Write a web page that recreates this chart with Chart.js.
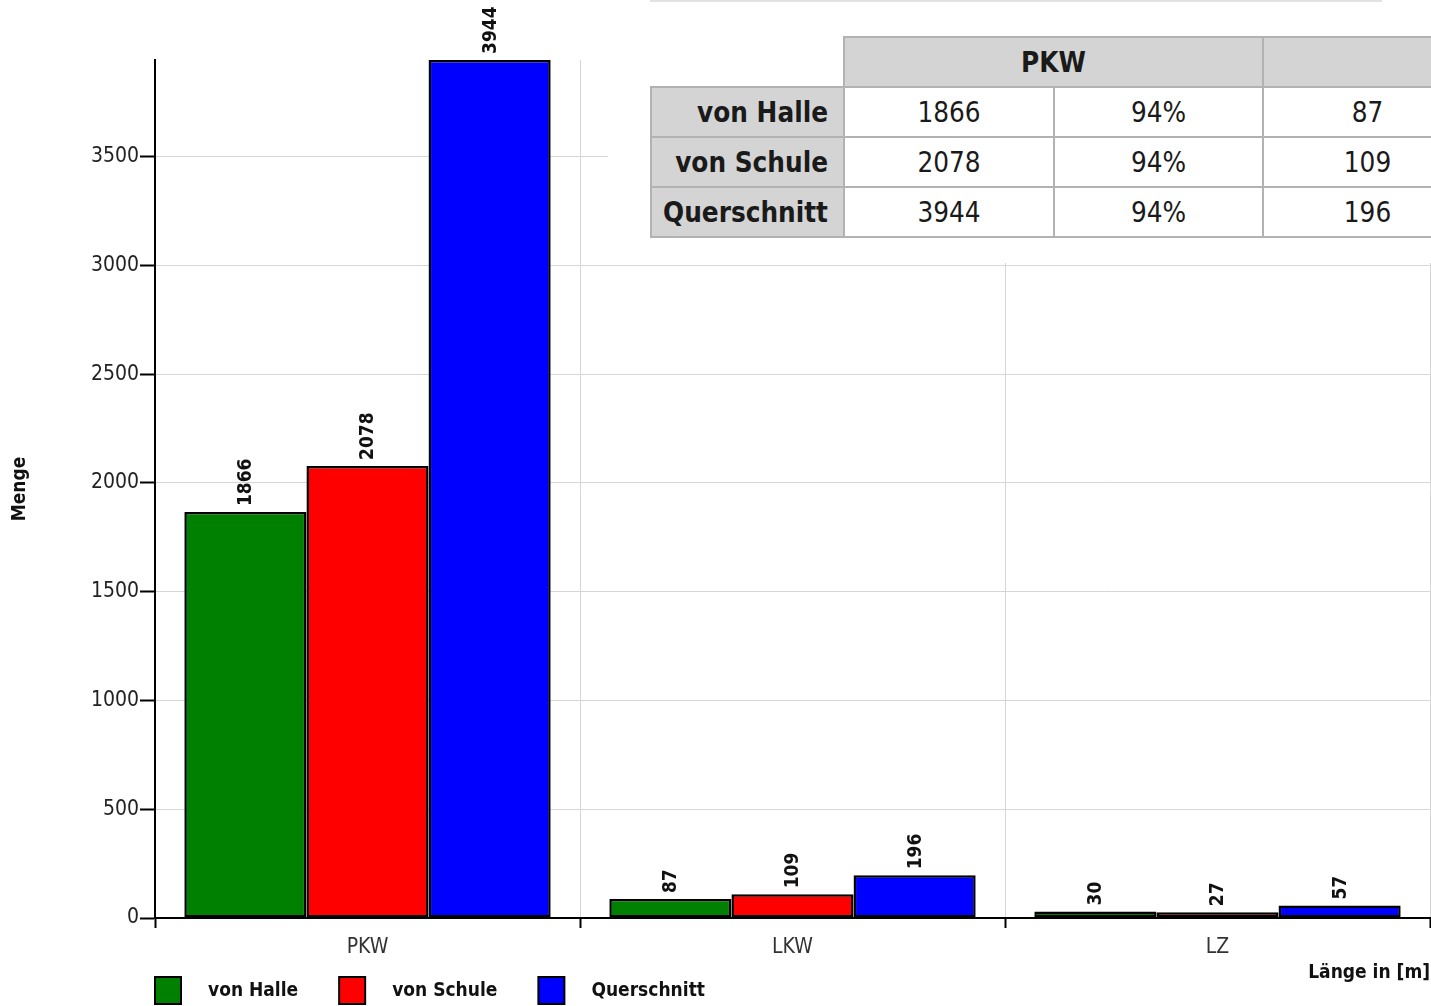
<!DOCTYPE html>
<html><head><meta charset="utf-8">
<script src="https://cdn.jsdelivr.net/npm/chart.js@4.4.1/dist/chart.umd.min.js"></script>
<style>
html,body{margin:0;padding:0;background:#fff;overflow:hidden;}
#wrap{position:relative;width:1431px;height:1006px;}
#chart{position:absolute;left:0;top:0;}
#tbox{position:absolute;left:608px;top:0;width:823px;height:263px;background:#fff;overflow:hidden;}
#topline{position:absolute;left:42px;top:0;width:732px;height:2px;background:#e2e2e2;}
#tbl{position:absolute;left:42px;top:36px;border-collapse:collapse;table-layout:fixed;width:821px;
  font-family:"DejaVu Sans Condensed","DejaVu Sans",sans-serif;font-size:27.6px;color:#1a1a1a;}
#tbl td,#tbl th{border:2px solid #b2b2b2;height:48px;padding:0;text-align:center;font-weight:normal;}
#tbl th{background:#d4d4d4;font-weight:bold;}
#tbl th.row{text-align:right;padding-right:15px;}
#tbl td.blank{border:none;background:#fff;}
</style></head>
<body>
<div id="wrap">
<canvas id="chart" width="1431" height="1006"></canvas>
<div id="tbox"><div id="topline"></div>
<table id="tbl">
<colgroup><col style="width:193px"><col style="width:210px"><col style="width:209px"><col style="width:209px"></colgroup>
<tr><td class="blank"></td><th colspan="2">PKW</th><th></th></tr>
<tr><th class="row">von Halle</th><td>1866</td><td>94%</td><td>87</td></tr>
<tr><th class="row">von Schule</th><td>2078</td><td>94%</td><td>109</td></tr>
<tr><th class="row">Querschnitt</th><td>3944</td><td>94%</td><td>196</td></tr>
</table>
</div>
</div>
<script>
// ---- data ----
const categories = ['PKW', 'LKW', 'LZ'];
const seriesNames = ['von Halle', 'von Schule', 'Querschnitt'];
const vonHalle = [1866, 87, 30];
const vonSchule = [2078, 109, 27];
const querschnitt = [3944, 196, 57];
const yTickValues = [0, 500, 1000, 1500, 2000, 2500, 3000, 3500];
const yMax = 3944;
const yTitle = 'Menge';
const xTitle = 'Länge in [m]';

// ---- styles ----
const FONT = '"DejaVu Sans Condensed", "DejaVu Sans", sans-serif';
const seriesColors = ['#008000', '#ff0000', '#0000ff'];

const valueLabels = {
  id: 'valueLabels',
  afterDatasetsDraw(chart) {
    const ctx = chart.ctx;
    ctx.save();
    ctx.font = 'bold 19px ' + FONT;
    ctx.fillStyle = '#111';
    chart.data.datasets.forEach((ds, i) => {
      const meta = chart.getDatasetMeta(i);
      meta.data.forEach((bar, j) => {
        ctx.save();
        ctx.translate(bar.x + 1, bar.y - 6);
        ctx.rotate(-Math.PI / 2);
        ctx.textAlign = 'left';
        ctx.textBaseline = 'middle';
        ctx.fillText(String(ds.data[j]), 0, 0);
        ctx.restore();
      });
    });
    ctx.restore();
  }
};

const bottomLegend = {
  id: 'bottomLegend',
  afterDraw(chart) {
    const ctx = chart.ctx;
    ctx.save();
    ctx.font = 'bold 19px ' + FONT;
    let x = chart.chartArea.left;
    const top = 977, h = 27, w = 26;
    chart.data.datasets.forEach(ds => {
      ctx.fillStyle = ds.backgroundColor;
      ctx.fillRect(x, top, w, h);
      ctx.strokeStyle = '#000';
      ctx.lineWidth = 2;
      ctx.strokeRect(x, top, w, h);
      ctx.fillStyle = '#111';
      ctx.textAlign = 'left';
      ctx.textBaseline = 'middle';
      ctx.fillText(ds.label, x + 53, top + h / 2 + 1);
      x += 53 + ctx.measureText(ds.label).width + 41;
    });
    ctx.restore();
  }
};

const seriesData = [vonHalle, vonSchule, querschnitt];
new Chart(document.getElementById('chart'), {
  type: 'bar',
  data: {
    labels: categories,
    datasets: seriesNames.map((name, i) => ({
      label: name,
      data: seriesData[i],
      backgroundColor: seriesColors[i],
      borderColor: '#000',
      borderWidth: 2.5,
      borderSkipped: false,
      categoryPercentage: 0.862,
      barPercentage: 1.0
    }))
  },
  options: {
    responsive: false,
    animation: false,
    layout: { padding: { top: 60, right: 1, left: 0, bottom: 0 } },
    plugins: { legend: { display: false }, tooltip: { enabled: false } },
    scales: {
      x: {
        grid: { offset: true, color: '#d6d6d6', lineWidth: 1, tickColor: '#000', tickLength: 10, tickWidth: 2 },
        border: { color: '#000', width: 2 },
        ticks: { font: { family: FONT, size: 21 }, color: '#333', padding: 7 },
        title: { display: true, text: xTitle, align: 'end', color: '#111',
                 font: { family: FONT, size: 19, weight: 'bold' }, padding: { top: 0, bottom: 22 } },
        afterFit(s) { s.height = 88; }
      },
      y: {
        min: 0,
        max: yMax,
        afterBuildTicks(s) { s.ticks = yTickValues.map(v => ({ value: v })); },
        grid: { color: '#d6d6d6', lineWidth: 1, tickColor: '#000', tickLength: 15, tickWidth: 2 },
        border: { color: '#000', width: 2 },
        ticks: { font: { family: FONT, size: 21 }, color: '#222', padding: 1,
                 callback: v => String(v) },
        title: { display: true, text: yTitle, color: '#111',
                 font: { family: FONT, size: 19, weight: 'bold' }, padding: { top: 9, bottom: 0 } },
        afterFit(s) { s.width = 155; }
      }
    }
  },
  plugins: [valueLabels, bottomLegend]
});
</script>
</body></html>
